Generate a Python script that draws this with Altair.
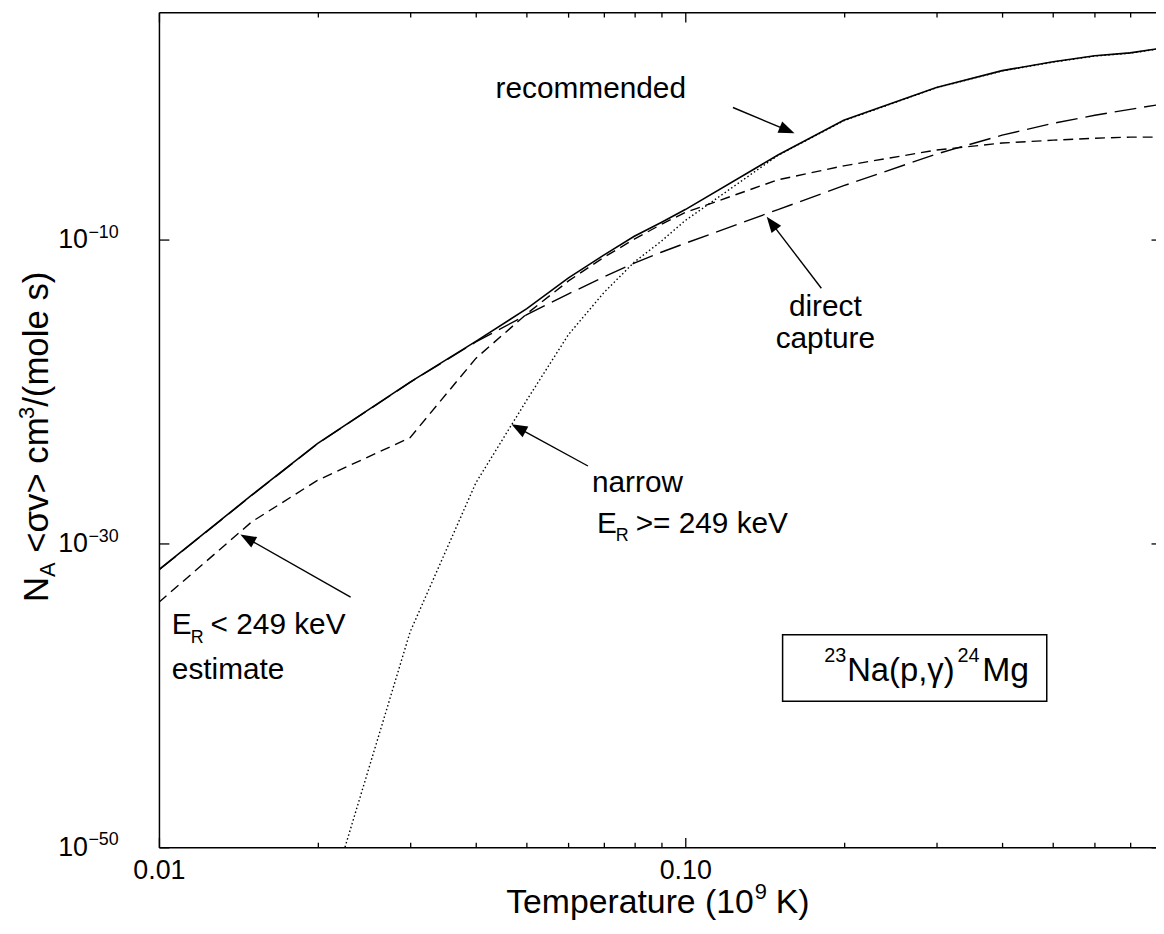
import math
import altair as alt
import pandas as pd

# ---------------- data (log10 of N_A<sigma v>) ----------------
temperature = [0.01, 0.015, 0.02, 0.03, 0.04, 0.05, 0.06, 0.07, 0.08, 0.09, 0.10,
               0.15, 0.20, 0.30, 0.40, 0.50, 0.60, 0.70, 0.80]
log_recommended = [-31.71, -26.81, -23.41, -19.36, -16.68, -14.53, -12.50, -11.00, -9.76, -8.85, -8.00,
                   -4.41, -2.12, 0.04, 1.15, 1.73, 2.13, 2.32, 2.62]
log_estimate = [-33.86, -28.57, -25.83, -23.02, -17.80, -14.86, -12.70, -11.15, -9.95, -8.98, -8.19,
                -6.04, -5.12, -4.08, -3.62, -3.43, -3.30, -3.23, -3.23]
log_direct = [-31.73, -26.83, -23.43, -19.38, -16.72, -14.92, -13.55, -12.44, -11.53, -10.81, -10.22,
              -8.00, -6.43, -4.34, -3.10, -2.32, -1.79, -1.40, -1.07]
temperature_narrow = [0.02, 0.03, 0.04, 0.05, 0.06, 0.07, 0.08, 0.09, 0.10,
                      0.15, 0.20, 0.30, 0.40, 0.50, 0.60, 0.70, 0.80]
log_narrow = [-56.0, -35.82, -26.00, -20.54, -16.23, -13.48, -11.46, -10.09, -8.72,
              -4.43, -2.15, 0.02, 1.13, 1.71, 2.11, 2.30, 2.60]

x_tick_values = [0.01, 0.02, 0.03, 0.04, 0.05, 0.06, 0.07, 0.08, 0.09, 0.1,
                 0.2, 0.3, 0.4, 0.5, 0.6, 0.7]
x_label_values = [0.01, 0.1]
y_tick_values = [1e-50, 1e-30, 1e-10]
y_exponents = ["\u221250", "\u221230", "\u221210"]

FONT = "Liberation Sans"
W, H = 1004, 841
XMAX = 0.784

x_scale = alt.Scale(type="log", domain=[0.01, XMAX], nice=False)
y_scale = alt.Scale(type="log", domain=[1e-50, 1e5], nice=False)


def frame(T, logs):
    return pd.DataFrame({"T": T, "rate": [10.0 ** v for v in logs]})


df_rec = frame(temperature, log_recommended)
df_est = frame(temperature, log_estimate)
df_dir = frame(temperature, log_direct)
df_nar = frame(temperature_narrow, log_narrow)

major_test = "abs(log(datum.value)/LN10 - round(log(datum.value)/LN10)) < 0.001"
x_tick_len = {"condition": {"test": major_test, "value": 10}, "value": 5}

main_x_axis = alt.Axis(orient="bottom", values=x_label_values, format=".2f", ticks=False, tickSize=0,
                       labelFont=FONT, labelFontSize=27, labelColor="black", labelBaseline="alphabetic",
                       labelPadding=31, labelFlush=False, labelOverlap=False, domain=True,
                       domainColor="black", domainWidth=1.5, grid=False, title=None)
main_y_axis = alt.Axis(orient="left", values=y_tick_values, labelExpr="'10'", ticks=False, tickSize=0,
                       labelFont=FONT, labelFontSize=27, labelColor="black", labelBaseline="middle",
                       labelPadding=72, labelFlush=False, labelOverlap=False, domain=True,
                       domainColor="black", domainWidth=1.5, grid=False, title=None)

# inward ticks on the bottom / left edges
ticks_a_x = alt.Axis(orient="top", offset=-H, values=x_tick_values, labels=False, domain=False,
                     tickSize=x_tick_len, tickColor="black", tickWidth=1.3, grid=False, title=None)
ticks_a_y = alt.Axis(orient="right", offset=-W, values=y_tick_values, labels=False, domain=False,
                     tickSize=10, tickColor="black", tickWidth=1.3, grid=False, title=None)
# inward ticks on the top / right edges (top frame line included)
ticks_b_x = alt.Axis(orient="bottom", offset=-H, values=x_tick_values, labels=False, domain=True,
                     domainColor="black", domainWidth=1.5,
                     tickSize=x_tick_len, tickColor="black", tickWidth=1.3, grid=False, title=None)
ticks_b_y = alt.Axis(orient="left", offset=-W, values=y_tick_values, labels=False, domain=False,
                     tickSize=5, tickColor="black", tickWidth=1.3, grid=False, title=None)


def curve(df, dash, width, axes=False):
    m = alt.Chart(df).mark_line(clip=True, color="black", strokeWidth=width, **({"strokeDash": dash} if dash else {}))
    return m.encode(
        x=alt.X("T:Q", scale=x_scale, axis=main_x_axis if axes else None),
        y=alt.Y("rate:Q", scale=y_scale, axis=main_y_axis if axes else None),
    )


direct_line = curve(df_dir, [22, 8], 1.4)
estimate_line = curve(df_est, [10, 6], 1.4)
narrow_line = curve(df_nar, [1.5, 2.5], 1.4)
rec_line = curve(df_rec, None, 1.6, axes=True)

ticks_a = alt.Chart(df_rec).mark_point(opacity=0, size=1).encode(
    x=alt.X("T:Q", scale=x_scale, axis=ticks_a_x),
    y=alt.Y("rate:Q", scale=y_scale, axis=ticks_a_y),
)
ticks_b = alt.Chart(df_rec).mark_point(opacity=0, size=1).encode(
    x=alt.X("T:Q", scale=x_scale, axis=ticks_b_x),
    y=alt.Y("rate:Q", scale=y_scale, axis=ticks_b_y),
)

exp_df = pd.DataFrame({"v": y_tick_values, "t": y_exponents})
exponents = alt.Chart(exp_df).mark_text(font=FONT, fontSize=18, align="left", baseline="alphabetic",
                                        color="black", dy=-2).encode(
    y=alt.Y("v:Q", scale=y_scale, axis=None), x=alt.value(-71), text="t:N")

one = alt.Data(values=[{"k": 0}])


def label(text, x, y, size=30, align="left", angle=0):
    kw = {"angle": angle} if angle else {}
    return alt.Chart(one).mark_text(text=text, font=FONT, fontSize=size, align=align,
                                    baseline="alphabetic", color="black", **kw).encode(
        x=alt.value(x), y=alt.value(y))


HEAD = "M0,0 L0.38,1 L-0.38,1 Z"


def arrow(x1, y1, x2, y2, head=16):
    dx, dy = x2 - x1, y2 - y1
    L = math.hypot(dx, dy)
    ang = math.degrees(math.atan2(dx, -dy)) % 360
    ex, ey = x2 - dx / L * head * 0.8, y2 - dy / L * head * 0.8
    line = alt.Chart(one).mark_rule(color="black", strokeWidth=1.4).encode(
        x=alt.value(x1), y=alt.value(y1), x2=alt.value(ex), y2=alt.value(ey))
    tip = alt.Chart(one).mark_point(shape=HEAD, size=4 * head * head, angle=ang, filled=True,
                                    color="black", opacity=1).encode(x=alt.value(x2), y=alt.value(y2))
    return [line, tip]


annotations = []
annotations += [label("recommended", 339, 86)]
annotations += arrow(578, 96, 640, 122)
annotations += [label("direct", 671, 306, align="center"), label("capture", 671, 338, align="center")]
annotations += arrow(667, 278, 612, 206)
annotations += [label("narrow", 436, 483), label("E", 441, 524), label("R", 460, 533, size=18),
                label(">= 249 keV", 480, 524)]
annotations += arrow(432, 457, 355, 415)
annotations += [label("E", 13, 626), label("R", 32, 635, size=18), label("< 249 keV", 52, 626),
                label("estimate", 13, 671)]
annotations += arrow(193, 589, 82, 526)

box = alt.Chart(one).mark_rect(fill="white", fillOpacity=0, stroke="black", strokeWidth=1.5).encode(
    x=alt.value(628), x2=alt.value(894), y=alt.value(627), y2=alt.value(694))
annotations += [box, label("23", 670, 654, size=20), label("Na(p,\u03b3)", 693, 674, size=33),
                label("24", 804, 654, size=20), label("Mg", 829, 674, size=34)]

# axis titles composed from pieces (sub/superscripts)
annotations += [label("Temperature (10", 599, 907, size=34, align="right"), label("9", 600, 893, size=22),
                label("K)", 621, 907, size=34)]
annotations += [label("N", -112, 594, size=35, angle=270), label("A", -105, 568.7, size=22, angle=270),
                label("<\u03c3v> cm", -112, 544.3, size=35, angle=270),
                label("3", -126, 409.6, size=22, angle=270),
                label("/(mole s)", -112, 397.4, size=35, angle=270)]

chart = alt.layer(
    direct_line, estimate_line, narrow_line, rec_line, ticks_a, ticks_b, exponents, *annotations
).resolve_scale(x="shared", y="shared").resolve_axis(x="independent", y="independent").properties(
    width=W, height=H,
    autosize=alt.AutoSizeParams(type="none"),
    padding={"left": 152, "top": 1, "right": 0, "bottom": 72},
    background="white",
).configure_view(stroke=None)

chart.save("out.html", embed_options={"renderer": "svg", "actions": False})
